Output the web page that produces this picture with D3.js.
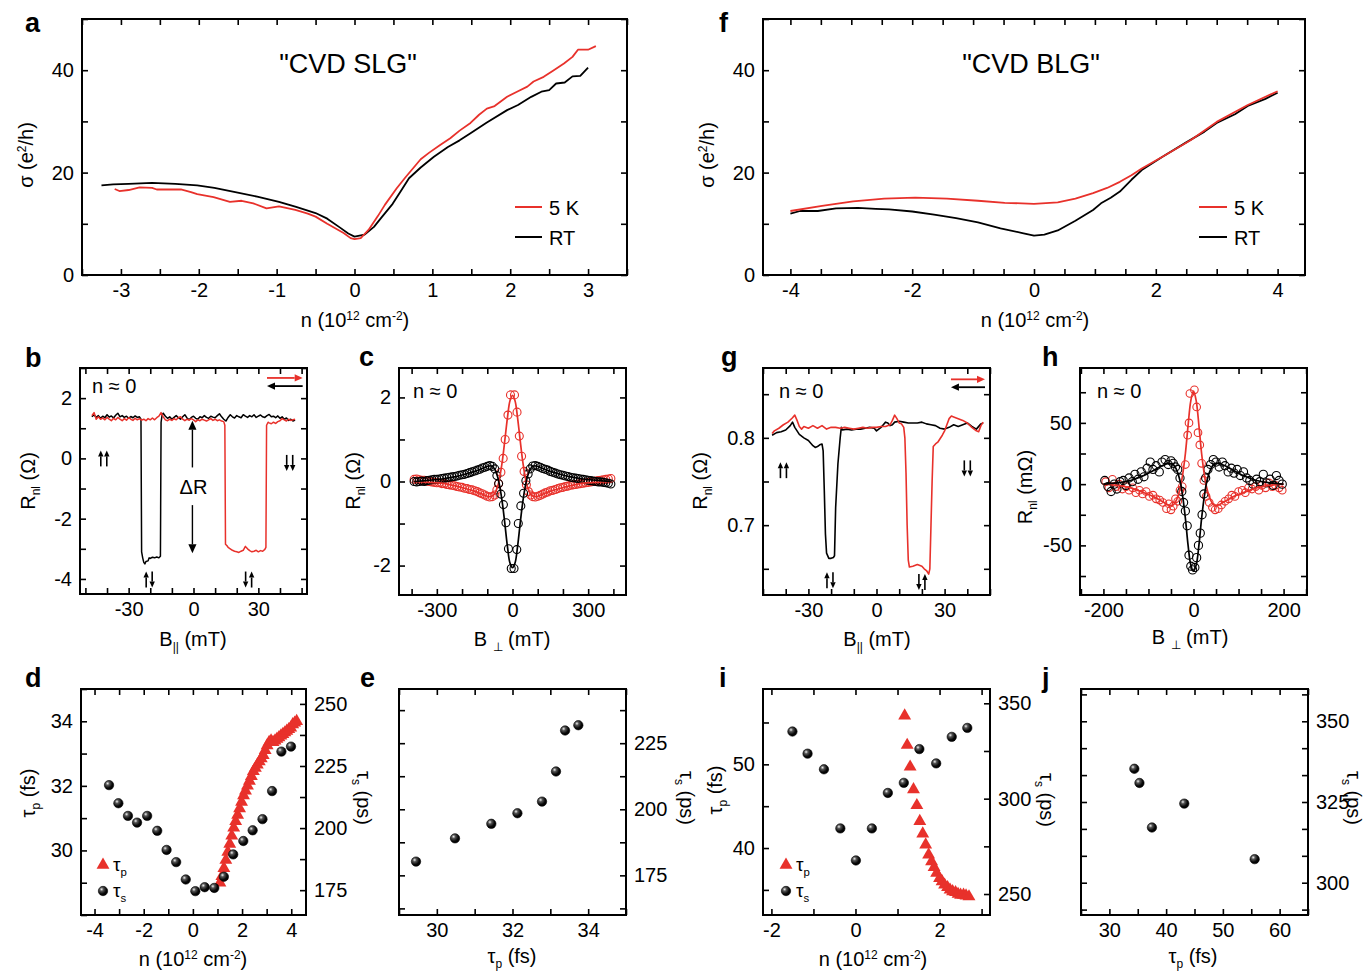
<!doctype html>
<html lang="en">
<head>
<meta charset="utf-8">
<title>Spin transport in CVD graphene</title>
<script src="https://d3js.org/d3.v7.min.js"></script>
<style>
  body { margin: 0; background: #fff; }
  text { white-space: pre; }
</style>
</head>
<body>
<script>
const FONT = "'Liberation Sans', Arial, Helvetica, sans-serif";
const RED = "#e8312b";

// ---------- data ----------
// a: conductivity of CVD SLG, n (1e12 cm-2) vs sigma (e2/h)
const aRT = [[-3.25,17.5],[-3.1,17.7],[-2.9,17.8],[-2.6,18.0],[-2.3,17.8],[-2.02,17.5],[-1.8,17.0],[-1.5,16.1],[-1.25,15.3],[-0.97,14.3],[-0.75,13.3],[-0.5,12.1],[-0.35,11.0],[-0.19,9.3],[-0.08,8.1],[0,7.5],[0.13,7.9],[0.25,9.4],[0.34,11.1],[0.49,13.9],[0.6,16.5],[0.7,18.9],[0.85,21.0],[1.02,23.1],[1.2,25.0],[1.35,26.3],[1.49,27.7],[1.7,29.8],[1.96,32.2],[2.1,33.2],[2.27,34.8],[2.4,35.8],[2.5,36.1],[2.59,37.4],[2.7,37.6],[2.8,38.8],[2.9,38.9],[3.0,40.5]];
const a5K = [[-3.08,16.8],[-3.02,16.4],[-2.9,16.6],[-2.76,17.1],[-2.6,17.0],[-2.54,16.7],[-2.23,16.7],[-2.1,16.2],[-2.02,15.8],[-1.81,15.2],[-1.6,14.3],[-1.45,14.5],[-1.3,14.0],[-1.13,13.0],[-0.97,13.4],[-0.76,12.7],[-0.6,12.0],[-0.5,11.4],[-0.35,10.0],[-0.14,8.2],[-0.05,7.2],[0,7.0],[0.08,7.2],[0.18,8.8],[0.3,11.5],[0.39,13.7],[0.54,16.9],[0.65,19.0],[0.75,20.8],[0.85,22.6],[0.96,23.9],[1.1,25.4],[1.23,26.7],[1.35,28.2],[1.49,29.7],[1.6,31.3],[1.7,32.5],[1.8,33.0],[1.96,34.8],[2.1,35.9],[2.22,36.8],[2.3,37.8],[2.43,38.7],[2.55,39.9],[2.69,41.3],[2.8,42.6],[2.87,44.0],[3.0,44.0],[3.1,44.7]];

// f: conductivity of CVD BLG
const f5K = [[-4,12.5],[-3.48,13.5],[-2.97,14.4],[-2.46,14.9],[-1.95,15.1],[-1.43,14.9],[-0.92,14.5],[-0.48,14.1],[0,13.9],[0.39,14.2],[0.68,14.9],[0.97,16.0],[1.2,17.0],[1.41,18.2],[1.6,19.5],[1.77,20.8],[2.11,23.1],[2.57,26.3],[3.0,29.9],[3.51,33.2],[4.0,35.9]];
const fRT = [[-4,12.0],[-3.84,12.5],[-3.55,12.5],[-3.25,13.0],[-2.89,13.1],[-2.6,12.9],[-2.38,12.8],[-2.0,12.4],[-1.64,11.8],[-1.28,11.1],[-0.92,10.3],[-0.55,9.1],[-0.19,8.2],[0,7.7],[0.17,7.9],[0.39,8.7],[0.68,10.6],[0.97,12.7],[1.1,14.0],[1.26,15.1],[1.41,16.3],[1.6,18.6],[1.77,20.5],[2.11,23.1],[2.5,25.9],[2.8,28.0],[3.0,29.7],[3.3,31.4],[3.51,33.0],[3.8,34.4],[4.0,35.6]];

// b: spin valve SLG, B (mT) vs Rnl (Ohm)
const bDown = [[-47,1.38],[-46,1.45],[-45,1.36],[-44,1.42],[-43,1.33],[-42,1.40],[-41,1.35],[-40,1.45],[-39,1.37],[-38,1.41],[-37,1.34],[-36,1.43],[-35,1.50],[-34,1.38],[-33,1.42],[-32,1.36],[-31,1.40],[-30,1.33],[-29,1.39],[-28,1.35],[-27,1.41],[-26,1.36],[-25,1.38],[-24.3,1.30],[-24,-3.1],[-23.5,-3.3],[-23,-3.45],[-22.5,-3.5],[-22,-3.42],[-21,-3.4],[-20.5,-3.3],[-20,-3.32],[-19,-3.28],[-18,-3.3],[-17,-3.27],[-16,-3.3],[-15.3,-3.25],[-15,1.2],[-14.5,1.45],[-14,1.5],[-13,1.40],[-12,1.33],[-11,1.38],[-10,1.30],[-9,1.36],[-8,1.42],[-7,1.35],[-6,1.30],[-5,1.38],[-4,1.45],[-3,1.34],[-2,1.28],[-1,1.36],[0,1.40],[1,1.33],[2,1.30],[3,1.38],[4,1.35],[5,1.42],[6,1.36],[7,1.33],[8,1.40],[9,1.37],[10,1.35],[11,1.42],[12,1.48],[13,1.38],[14,1.30],[15,1.24],[16,1.36],[17,1.45],[18,1.38],[19,1.34],[20,1.42],[21,1.38],[22,1.35],[23,1.45],[24,1.40],[25,1.36],[26,1.42],[27,1.38],[28,1.45],[29,1.36],[30,1.40],[31,1.44],[32,1.38],[33,1.36],[34,1.42],[35,1.46],[36,1.38],[37,1.40],[38,1.35],[39,1.41],[40,1.33],[41,1.38],[42,1.30],[43,1.34],[44,1.26],[45,1.30],[46,1.24],[47,1.27]];
const bUp = [[-47,1.42],[-46,1.52],[-45,1.30],[-44,1.38],[-43,1.30],[-42,1.34],[-41,1.28],[-40,1.36],[-39,1.30],[-38,1.25],[-37,1.33],[-36,1.28],[-35,1.36],[-34,1.30],[-33,1.25],[-32,1.32],[-31,1.27],[-30,1.35],[-29,1.30],[-28,1.26],[-27,1.33],[-26,1.28],[-25,1.32],[-24,1.27],[-23,1.30],[-22,1.25],[-21,1.32],[-20,1.28],[-19,1.34],[-18,1.28],[-17,1.35],[-16,1.40],[-15,1.52],[-14,1.38],[-13,1.28],[-12,1.25],[-11,1.30],[-10,1.26],[-9,1.32],[-8,1.28],[-7,1.35],[-6,1.38],[-5,1.30],[-4,1.25],[-3,1.30],[-2,1.27],[-1,1.32],[0,1.28],[1,1.22],[2,1.28],[3,1.25],[4,1.30],[5,1.27],[6,1.24],[7,1.28],[8,1.32],[9,1.26],[10,1.30],[11,1.25],[12,1.28],[13,1.24],[14,1.22],[14.5,1.1],[14.8,-2.85],[15.5,-2.9],[16,-2.95],[17,-3.0],[18,-3.05],[19,-3.08],[20,-3.1],[21,-3.12],[22,-3.08],[23,-3.05],[24,-2.92],[25,-3.0],[26,-3.06],[27,-3.1],[28,-3.08],[29,-3.05],[30,-3.1],[31,-3.06],[32,-3.08],[33,-3.02],[33.5,-2.95],[33.8,1.1],[34.5,1.2],[35,1.18],[36,1.15],[37,1.2],[38,1.16],[39,1.22],[40,1.25],[41,1.32],[42,1.28],[43,1.24],[44,1.30],[45,1.26],[46,1.28],[47,1.3]];

// c: Hanle SLG, B (mT) vs Rnl (Ohm)
const cRedPts = [[-390,0.05],[-380,0.06],[-370,0.04],[-360,0.03],[-350,0.03],[-340,0.01],[-330,0.0],[-320,-0.01],[-310,-0.02],[-300,-0.03],[-290,-0.03],[-280,-0.05],[-270,-0.05],[-260,-0.07],[-250,-0.08],[-240,-0.09],[-230,-0.1],[-220,-0.12],[-210,-0.13],[-200,-0.14],[-190,-0.16],[-180,-0.17],[-170,-0.19],[-160,-0.2],[-150,-0.22],[-140,-0.24],[-130,-0.27],[-120,-0.29],[-110,-0.32],[-100,-0.35],[-90,-0.37],[-80,-0.36],[-70,-0.32],[-62,-0.2],[-55,-0.05],[-46,0.22],[-37,0.55],[-29,1.0],[-18,1.58],[-8,2.06],[8,2.06],[18,1.65],[27,1.08],[36,0.6],[46,0.24],[55,-0.08],[63,-0.24],[72,-0.32],[80,-0.36],[90,-0.37],[100,-0.35],[110,-0.33],[120,-0.3],[130,-0.27],[140,-0.25],[150,-0.22],[160,-0.21],[170,-0.19],[180,-0.17],[190,-0.15],[200,-0.14],[210,-0.12],[220,-0.11],[230,-0.09],[240,-0.08],[250,-0.07],[260,-0.06],[270,-0.05],[280,-0.04],[290,-0.03],[300,-0.02],[310,-0.01],[320,0.0],[330,0.01],[340,0.02],[350,0.03],[360,0.04],[370,0.05],[380,0.06],[390,0.07]];
const cBlkPts = [[-390,0.0],[-380,-0.01],[-370,0.0],[-360,0.01],[-350,0.0],[-340,0.02],[-330,0.03],[-320,0.04],[-310,0.05],[-300,0.05],[-290,0.06],[-280,0.07],[-270,0.08],[-260,0.09],[-250,0.1],[-240,0.11],[-230,0.12],[-220,0.13],[-210,0.15],[-200,0.16],[-190,0.17],[-180,0.19],[-170,0.21],[-160,0.23],[-150,0.25],[-140,0.27],[-130,0.29],[-120,0.32],[-110,0.34],[-100,0.36],[-90,0.38],[-80,0.36],[-70,0.3],[-62,0.14],[-55,-0.05],[-46,-0.3],[-36,-0.55],[-26,-0.98],[-16,-1.6],[-5,-2.07],[6,-2.07],[17,-1.62],[23,-1.0],[33,-0.58],[44,-0.28],[53,0.02],[62,0.18],[70,0.3],[80,0.37],[90,0.38],[100,0.36],[110,0.34],[120,0.31],[130,0.29],[140,0.27],[150,0.24],[160,0.22],[170,0.2],[180,0.18],[190,0.16],[200,0.15],[210,0.13],[220,0.12],[230,0.1],[240,0.09],[250,0.08],[260,0.07],[270,0.06],[280,0.05],[290,0.04],[300,0.03],[310,0.02],[320,0.01],[330,0.0],[340,-0.01],[350,-0.01],[360,-0.02],[370,-0.03],[380,-0.04],[390,-0.06]];
const cRedFit = [[-390,0.0],[-330,-0.02],[-280,-0.04],[-230,-0.1],[-190,-0.16],[-150,-0.23],[-120,-0.3],[-100,-0.35],[-85,-0.36],[-72,-0.3],[-60,-0.14],[-50,0.12],[-40,0.5],[-30,1.0],[-20,1.52],[-10,1.92],[0,2.05],[10,1.92],[20,1.52],[30,1.0],[40,0.5],[50,0.12],[60,-0.14],[72,-0.3],[85,-0.36],[100,-0.35],[120,-0.3],[150,-0.23],[190,-0.16],[230,-0.1],[280,-0.04],[330,-0.02],[390,0.0]];
const cBlkFit = [[-390,0.0],[-330,0.03],[-280,0.06],[-230,0.11],[-190,0.17],[-150,0.24],[-120,0.31],[-100,0.36],[-85,0.37],[-72,0.31],[-60,0.13],[-50,-0.14],[-40,-0.52],[-30,-1.02],[-20,-1.55],[-10,-1.94],[0,-2.05],[10,-1.94],[20,-1.55],[30,-1.02],[40,-0.52],[50,-0.14],[60,0.13],[72,0.31],[85,0.37],[100,0.36],[120,0.31],[150,0.24],[190,0.17],[230,0.11],[280,0.06],[330,0.03],[390,0.0]];

// g: spin valve BLG
const gDown = [[-46,0.803],[-44,0.806],[-42,0.807],[-40,0.809],[-38,0.814],[-37,0.818],[-36,0.812],[-34,0.804],[-32,0.800],[-30,0.797],[-28,0.791],[-27,0.789],[-26,0.790],[-25,0.792],[-24,0.793],[-23.5,0.785],[-23,0.74],[-22.5,0.69],[-22,0.668],[-21,0.662],[-20,0.662],[-19,0.663],[-18.5,0.665],[-18,0.72],[-17,0.77],[-16,0.80],[-15.5,0.812],[-15,0.809],[-13,0.810],[-11,0.809],[-9,0.810],[-7,0.810],[-5,0.811],[-3,0.812],[-1,0.811],[0,0.808],[1,0.810],[2,0.812],[3,0.815],[4,0.818],[5,0.817],[6,0.814],[7,0.815],[8,0.818],[10,0.819],[12,0.818],[14,0.817],[16,0.817],[18,0.817],[20,0.818],[22,0.816],[24,0.815],[26,0.814],[28,0.811],[30,0.810],[32,0.812],[34,0.815],[36,0.813],[38,0.815],[40,0.817],[42,0.813],[44,0.810],[46,0.816],[47,0.817]];
const gUp = [[-46,0.805],[-45,0.808],[-43,0.811],[-41,0.815],[-39,0.818],[-37,0.823],[-36,0.826],[-35,0.820],[-34,0.813],[-33,0.810],[-32,0.813],[-30,0.811],[-28,0.814],[-26,0.811],[-24,0.814],[-22,0.810],[-20,0.812],[-18,0.812],[-16,0.811],[-14,0.812],[-12,0.811],[-10,0.810],[-8,0.811],[-6,0.812],[-4,0.811],[-2,0.812],[0,0.812],[2,0.813],[4,0.813],[6,0.815],[7,0.820],[8,0.826],[9,0.822],[10,0.817],[11,0.816],[12,0.812],[12.5,0.80],[13,0.76],[13.5,0.70],[14,0.66],[14.5,0.652],[16,0.653],[18,0.655],[20,0.653],[21,0.650],[22,0.648],[23,0.644],[23.5,0.65],[24,0.70],[24.5,0.75],[25,0.79],[26,0.793],[27,0.795],[28,0.799],[29,0.803],[30,0.808],[31,0.815],[32,0.822],[33,0.825],[34,0.824],[36,0.822],[38,0.820],[40,0.817],[42,0.812],[44,0.808],[45,0.807],[46,0.814],[47,0.818]];

// h: Hanle BLG, B (mT) vs Rnl (mOhm)
const hRedPts = [[-195,2],[-188,-3],[-180,4],[-172,-2],[-165,0],[-158,-4],[-150,-2],[-143,-5],[-135,-3],[-128,-7],[-120,-5],[-113,-8],[-105,-6],[-98,-10],[-90,-9],[-83,-12],[-75,-13],[-68,-15],[-60,-20],[-55,-16],[-50,-21],[-45,-18],[-40,-12],[-35,-14],[-30,-5],[-25,-2],[-18,16],[-13,40],[-10,50],[-8,74],[2,77],[7,63],[10,42],[14,32],[18,17],[23,3],[28,-10],[35,-15],[42,-19],[48,-21],[55,-20],[62,-17],[70,-14],[78,-12],[85,-9],[92,-10],[100,-6],[108,-5],[115,-7],[122,-3],[130,-4],[138,-2],[145,-5],[152,-1],[160,-3],[168,1],[175,-2],[182,-1],[190,-3],[197,-5]];
const hBlkPts = [[-197,3],[-190,-2],[-183,-6],[-176,0],[-170,-4],[-163,2],[-156,3],[-150,-1],[-143,5],[-136,2],[-130,8],[-123,4],[-116,10],[-110,6],[-103,13],[-96,18],[-90,12],[-83,15],[-76,10],[-70,18],[-63,20],[-56,16],[-50,19],[-45,17],[-40,14],[-35,12],[-30,5],[-26,-6],[-22,-15],[-18,-22],[-14,-34],[-10,-58],[-6,-67],[-2,-70],[3,-68],[7,-60],[11,-50],[15,-40],[19,-25],[23,-8],[27,5],[32,12],[38,16],[44,20],[50,18],[57,14],[64,18],[70,15],[77,10],[84,13],[90,9],[97,12],[104,7],[111,10],[118,5],[125,3],[132,0],[140,4],[147,2],[155,8],[162,1],[170,4],[177,-1],[184,7],[190,3],[197,0]];
const hRedFit = [[-200,0],[-170,-1],[-140,-3],[-110,-7],[-90,-10],[-70,-14],[-55,-17],[-45,-17],[-38,-13],[-30,-4],[-24,8],[-18,25],[-12,48],[-6,68],[0,76],[6,68],[12,48],[18,25],[24,8],[30,-4],[38,-13],[45,-17],[55,-17],[70,-14],[90,-10],[110,-7],[140,-3],[170,-1],[200,0]];
const hBlkFit = [[-200,0],[-170,1],[-140,3],[-110,7],[-90,11],[-70,15],[-55,17],[-45,16],[-38,12],[-30,3],[-24,-10],[-18,-28],[-12,-50],[-6,-66],[0,-71],[6,-66],[12,-50],[18,-28],[24,-10],[30,3],[38,12],[45,16],[55,17],[70,15],[90,11],[110,7],[140,3],[170,1],[200,0]];

// d: SLG tau_p (fs) and tau_s (ps) vs n
const dTauP = [[1.10,29.0],[1.18,29.2],[1.26,29.45],[1.34,29.7],[1.42,29.95],[1.50,30.2],[1.58,30.45],[1.66,30.7],[1.74,30.9],[1.82,31.1],[1.90,31.3],[1.98,31.5],[2.06,31.7],[2.14,31.85],[2.22,32.0],[2.30,32.15],[2.38,32.3],[2.46,32.45],[2.54,32.55],[2.62,32.65],[2.70,32.75],[2.78,32.85],[2.86,32.95],[2.94,33.1],[3.02,33.25],[3.10,33.35],[3.18,33.4],[3.26,33.35],[3.34,33.4],[3.42,33.45],[3.50,33.5],[3.58,33.55],[3.66,33.6],[3.74,33.65],[3.82,33.7],[3.90,33.75],[3.98,33.8],[4.06,33.9],[4.14,33.95],[4.22,34.0]];
const dTauS = [[-3.41,217.3],[-3.03,210.0],[-2.64,204.9],[-2.27,202.2],[-1.86,204.9],[-1.45,198.9],[-1.07,191.2],[-0.68,186.3],[-0.29,179.3],[0.1,174.6],[0.48,176.2],[0.87,175.9],[1.26,180.4],[1.64,189.4],[2.05,194.8],[2.43,199.1],[2.83,203.6],[3.22,214.9],[3.6,230.8],[3.99,232.8]];
// e: SLG tau_s vs tau_p
const eTau = [[29.45,180.2],[30.48,189.0],[31.44,194.5],[32.13,198.5],[32.78,202.9],[33.15,214.3],[33.39,229.8],[33.74,231.8]];
// i: BLG tau_p and tau_s vs n
const iTauP = [[1.17,55.8],[1.23,52.3],[1.30,49.7],[1.38,47.0],[1.46,45.1],[1.53,43.2],[1.60,41.7],[1.67,40.4],[1.74,39.2],[1.81,38.4],[1.87,37.7],[1.93,37.0],[2.0,36.4],[2.06,36.0],[2.12,35.6],[2.19,35.3],[2.25,35.0],[2.31,34.8],[2.38,34.7],[2.44,34.5],[2.5,34.4],[2.57,34.4],[2.63,34.3],[2.7,34.2]];
const iTauS = [[-1.5,335.2],[-1.14,323.6],[-0.75,315.4],[-0.36,284.4],[0.01,267.6],[0.39,284.4],[0.77,303.0],[1.15,308.3],[1.52,326.0],[1.92,318.5],[2.29,332.4],[2.66,337.1]];
// j: BLG tau_s vs tau_p
const jTau = [[34.4,335.3],[35.3,330.9],[43.2,324.5],[37.5,317.1],[55.6,307.3]];

// ticks (all / labelled)
const aXT = d3.range(-3.5, 3.51, 0.5), aXL = [-3,-2,-1,0,1,2,3];
const aYT = [0,10,20,30,40,50], aYL = [0,20,40];
const fXT = d3.range(-4, 4.01, 0.5), fXL = [-4,-2,0,2,4];
const bXT = [-50,-40,-30,-20,-10,0,10,20,30,40,50], bXL = [-30,0,30];
const bYT = [-4,-3,-2,-1,0,1,2,3], bYL = [-4,-2,0,2];
const cXT = [-400,-300,-200,-100,0,100,200,300,400], cXL = [-300,0,300];
const cYT = [-2,-1,0,1,2], cYL = [-2,0,2];
const gXT = [-50,-40,-30,-20,-10,0,10,20,30,40,50], gXL = [-30,0,30];
const gYT = [0.65,0.7,0.75,0.8,0.85], gYL = [0.7,0.8];
const hXT = [-250,-200,-150,-100,-50,0,50,100,150,200,250], hXL = [-200,0,200];
const hYT = [-75,-50,-25,0,25,50,75], hYL = [-50,0,50];
const dXT = [-4,-3,-2,-1,0,1,2,3,4], dXL = [-4,-2,0,2,4];
const dYT = [28,29,30,31,32,33,34,35], dYL = [30,32,34];
const dY2T = [175,187.5,200,212.5,225,237.5,250], dY2L = [175,200,225,250];
const eXT = [29,30,31,32,33,34,35], eXL = [30,32,34];
const eYT = [162.5,175,187.5,200,212.5,225,237.5], eYL = [175,200,225];
const iXT = [-2,-1,0,1,2,3], iXL = [-2,0,2];
const iYT = [35,40,45,50,55], iYL = [40,50];
const iY2T = [250,275,300,325,350], iY2L = [250,300,350];
const jXT = [25,30,35,40,45,50,55,60,65], jXL = [30,40,50,60];
const jYT = [291.67,300,308.33,316.67,325,333.33,341.67,350,358.33], jYL = [300,325,350];

// ---------- drawing ----------
const svg = d3.select("body").append("svg")
  .attr("width", 1369).attr("height", 971)
  .attr("font-family", FONT);

const defs = svg.append("defs");
const grad = defs.append("radialGradient").attr("id", "ball")
  .attr("cx", "35%").attr("cy", "32%").attr("r", "70%");
grad.append("stop").attr("offset", "0%").attr("stop-color", "#f2f2f2");
grad.append("stop").attr("offset", "28%").attr("stop-color", "#555");
grad.append("stop").attr("offset", "70%").attr("stop-color", "#080808");
grad.append("stop").attr("offset", "100%").attr("stop-color", "#000");

function fmt(labels) {
  return d => labels.some(v => Math.abs(v - d) < 1e-6) ? String(d) : "";
}

function panel(o) {
  const [l, t, r, b] = o.box;
  const x = d3.scaleLinear().domain(o.x).range([l, r]);
  const y = d3.scaleLinear().domain(o.y).range([b, t]);
  const y2 = o.y2 ? d3.scaleLinear().domain(o.y2).range([b, t]) : null;
  const g = svg.append("g");

  function ax(gen, tx, ty, scale, vals, labels) {
    const a = gen(scale).tickValues(vals).tickSize(-6).tickPadding(8)
      .tickFormat(labels ? fmt(labels) : "");
    g.append("g").attr("transform", `translate(${tx},${ty})`).call(a)
      .call(s => s.select(".domain").remove())
      .call(s => s.selectAll("line").attr("stroke", "#000").attr("stroke-width", 1.6))
      .call(s => s.selectAll("text").attr("font-size", 20).attr("font-family", FONT).attr("fill", "#000"));
  }
  ax(d3.axisBottom, 0, b, x, o.xt, o.xl);
  ax(d3.axisTop, 0, t, x, o.xt, null);
  ax(d3.axisLeft, l, 0, y, o.yt, o.noLeftLabels ? null : o.yl);
  if (y2) {
    ax(d3.axisRight, r, 0, y2, o.y2t, o.y2l);
  } else {
    ax(d3.axisRight, r, 0, y, o.yt, o.noLeftLabels ? o.yl : null);
  }
  g.append("rect").attr("x", l).attr("y", t).attr("width", r - l).attr("height", b - t)
    .attr("fill", "none").attr("stroke", "#000").attr("stroke-width", 2);
  return { x, y, y2, g };
}

function line(p, data, color, w = 1.7, ys, curve) {
  const yy = ys || p.y;
  const gen = d3.line().x(d => p.x(d[0])).y(d => yy(d[1]));
  if (curve) gen.curve(curve);
  svg.append("path").datum(data).attr("d", gen)
    .attr("fill", "none").attr("stroke", color).attr("stroke-width", w)
    .attr("stroke-linejoin", "round");
}

function rings(p, data, color, rr = 3.8) {
  svg.append("g").selectAll("circle").data(data).join("circle")
    .attr("cx", d => p.x(d[0])).attr("cy", d => p.y(d[1])).attr("r", rr)
    .attr("fill", "none").attr("stroke", color).attr("stroke-width", 1.1);
}

function balls(p, data, ys) {
  const yy = ys || p.y;
  svg.append("g").selectAll("circle").data(data).join("circle")
    .attr("cx", d => p.x(d[0])).attr("cy", d => yy(d[1])).attr("r", 4.7)
    .attr("fill", "url(#ball)").attr("stroke", "#000").attr("stroke-width", 0.6);
}

const tri = d3.symbol().type(d3.symbolTriangle).size(72);
function triangles(p, data) {
  svg.append("g").selectAll("path").data(data).join("path")
    .attr("transform", d => `translate(${p.x(d[0])},${p.y(d[1])})`)
    .attr("d", tri).attr("fill", RED);
}

function rich(x, y, parts, opt = {}) {
  const t = svg.append("text").attr("x", x).attr("y", y)
    .attr("font-size", opt.size || 20)
    .attr("text-anchor", opt.anchor || "middle").attr("fill", "#000");
  if (opt.rotate) t.attr("transform", `rotate(${opt.rotate},${x},${y})`);
  if (opt.weight) t.attr("font-weight", opt.weight);
  parts.forEach(p => {
    const [s, k] = Array.isArray(p) ? p : [p, ""];
    const ts = t.append("tspan").text(s);
    if (k === "sup") ts.attr("font-size", "0.6em").attr("baseline-shift", "7px");
    if (k === "sub") ts.attr("font-size", "0.6em").attr("baseline-shift", "-5px");
  });
  return t;
}

function letter(x, y, s) { rich(x, y, [s], { size: 27, weight: "bold", anchor: "start" }); }

// arrows
function arrow(x1, y1, x2, y2, color, head = 6, w = 1.6) {
  const ang = Math.atan2(y2 - y1, x2 - x1);
  const bx = x2 - head * Math.cos(ang), by = y2 - head * Math.sin(ang);
  svg.append("line").attr("x1", x1).attr("y1", y1).attr("x2", bx).attr("y2", by)
    .attr("stroke", color).attr("stroke-width", w);
  const hw = head * 0.45;
  const px = -Math.sin(ang) * hw, py = Math.cos(ang) * hw;
  svg.append("path")
    .attr("d", `M${x2},${y2}L${bx + px},${by + py}L${bx - px},${by - py}Z`)
    .attr("fill", color);
}
function spin(cx, cy, first, second) {
  // two small vertical arrows, "u" up or "d" down
  [[cx - 3, first], [cx + 3, second]].forEach(([xx, dir]) => {
    if (dir === "u") arrow(xx, cy + 8, xx, cy - 8, "#000", 6, 1.6);
    else arrow(xx, cy - 8, xx, cy + 8, "#000", 6, 1.6);
  });
}
function sweepArrows(x1, x2, yR, yB) {
  arrow(x1, yR, x2, yR, RED, 8, 1.8);
  arrow(x2, yB, x1, yB, "#000", 8, 1.8);
}

const nLabel = ["n (10", ["12", "sup"], " cm", ["-2", "sup"], ")"];
const sigLabel = ["σ (e", ["2", "sup"], "/h)"];
const rnl = ["R", ["nl", "sub"], " (Ω)"];
const tp = ["τ", ["p", "sub"], " (fs)"];
const ts = ["τ", ["s", "sub"], " (ps)"];

// ---- a ----
const pa = panel({ box: [82, 19, 627, 275], x: [-3.5, 3.5], y: [0, 50], xt: aXT, xl: aXL, yt: aYT, yl: aYL });
line(pa, aRT, "#000", 1.8);
line(pa, a5K, RED, 1.8);
rich(348, 73, ['"CVD SLG"'], { size: 27 });
svg.append("line").attr("x1", 515).attr("x2", 542).attr("y1", 207).attr("y2", 207).attr("stroke", RED).attr("stroke-width", 2);
svg.append("line").attr("x1", 515).attr("x2", 542).attr("y1", 237).attr("y2", 237).attr("stroke", "#000").attr("stroke-width", 2);
rich(549, 215, ["5 K"], { anchor: "start" });
rich(549, 245, ["RT"], { anchor: "start" });
rich(355, 327, nLabel);
rich(33, 155, sigLabel, { rotate: -90 });
letter(25, 32, "a");

// ---- f ----
const pf = panel({ box: [763, 19, 1305, 275], x: [-4.45, 4.45], y: [0, 50], xt: fXT, xl: fXL, yt: aYT, yl: aYL });
line(pf, fRT, "#000", 1.8);
line(pf, f5K, RED, 1.8);
rich(1031, 73, ['"CVD BLG"'], { size: 27 });
svg.append("line").attr("x1", 1199).attr("x2", 1227).attr("y1", 207).attr("y2", 207).attr("stroke", RED).attr("stroke-width", 2);
svg.append("line").attr("x1", 1199).attr("x2", 1227).attr("y1", 237).attr("y2", 237).attr("stroke", "#000").attr("stroke-width", 2);
rich(1234, 215, ["5 K"], { anchor: "start" });
rich(1234, 245, ["RT"], { anchor: "start" });
rich(1035, 327, nLabel);
rich(714, 155, sigLabel, { rotate: -90 });
letter(719, 32, "f");

// ---- b ----
const pb = panel({ box: [80, 368, 307, 594], x: [-52.5, 52.5], y: [-4.5, 3], xt: bXT, xl: bXL, yt: bYT, yl: bYL });
line(pb, bDown, "#000", 1.5);
line(pb, bUp, RED, 1.5);
rich(92, 393, ["n ≈ 0"], { anchor: "start" });
sweepArrows(pb.x(34), pb.x(50.5), pb.y(2.67), pb.y(2.4));
// delta R
arrow(pb.x(-0.5), pb.y(-0.3), pb.x(-0.5), pb.y(1.25), "#000", 9, 1.4);
arrow(pb.x(-0.5), pb.y(-1.55), pb.x(-0.5), pb.y(-3.15), "#000", 9, 1.4);
rich(pb.x(0), pb.y(-0.95) + 7, ["ΔR"]);
spin(pb.x(-41.5), pb.y(0), "u", "u");
spin(pb.x(44.5), pb.y(-0.15), "d", "d");
spin(pb.x(-20.5), pb.y(-4.02), "u", "d");
spin(pb.x(25.5), pb.y(-4.02), "d", "u");
rich(193, 646, ["B", ["||", "sub"], " (mT)"]);
rich(35, 481, rnl, { rotate: -90 });
letter(25, 367, "b");

// ---- c ----
const pc = panel({ box: [399, 368, 626, 595], x: [-450, 450], y: [-2.7, 2.7], xt: cXT, xl: cXL, yt: cYT, yl: cYL });
rings(pc, cRedPts, RED, 4.0);
rings(pc, cBlkPts, "#000", 4.0);
line(pc, cRedFit, RED, 1.7, null, d3.curveCatmullRom);
line(pc, cBlkFit, "#000", 1.7, null, d3.curveCatmullRom);
rich(413, 398, ["n ≈ 0"], { anchor: "start" });
rich(512, 646, ["B ", ["⊥", "sub"], " (mT)"]);
rich(360, 481, rnl, { rotate: -90 });
letter(359, 366, "c");

// ---- g ----
const pg = panel({ box: [763, 368, 990, 595], x: [-50, 50], y: [0.62, 0.88], xt: gXT, xl: gXL, yt: gYT, yl: gYL });
line(pg, gDown, "#000", 1.6);
line(pg, gUp, RED, 1.6);
rich(779, 398, ["n ≈ 0"], { anchor: "start" });
sweepArrows(pg.x(32.8), pg.x(47.8), pg.y(0.867), pg.y(0.858));
spin(pg.x(-41), pg.y(0.763), "u", "u");
spin(pg.x(40), pg.y(0.765), "d", "d");
spin(pg.x(-20.5), pg.y(0.637), "u", "d");
spin(pg.x(20), pg.y(0.635), "d", "u");
rich(877, 646, ["B", ["||", "sub"], " (mT)"]);
rich(707, 481, rnl, { rotate: -90 });
letter(721, 366, "g");

// ---- h ----
const ph = panel({ box: [1080, 368, 1307, 595], x: [-252, 252], y: [-90.5, 94.8], xt: hXT, xl: hXL, yt: hYT, yl: hYL });
rings(ph, hRedPts, RED, 3.8);
rings(ph, hBlkPts, "#000", 4.1);
line(ph, hRedFit, RED, 1.7, null, d3.curveCatmullRom);
line(ph, hBlkFit, "#000", 1.7, null, d3.curveCatmullRom);
rich(1097, 398, ["n ≈ 0"], { anchor: "start" });
rich(1190, 644, ["B ", ["⊥", "sub"], " (mT)"]);
rich(1032, 487, ["R", ["nl", "sub"], " (mΩ)"], { rotate: -90 });
letter(1042, 366, "h");

// ---- d ----
const pd = panel({ box: [81, 689, 306, 915], x: [-4.55, 4.6], y: [28, 35], y2: [165, 256],
  xt: dXT, xl: dXL, yt: dYT, yl: dYL, y2t: dY2T, y2l: dY2L });
triangles(pd, dTauP);
balls(pd, dTauS, pd.y2);
svg.append("path").attr("transform", "translate(103,865)").attr("d", tri).attr("fill", RED);
svg.append("circle").attr("cx", 103).attr("cy", 891).attr("r", 4.7).attr("fill", "url(#ball)").attr("stroke", "#000").attr("stroke-width", 0.6);
rich(113, 871, ["τ", ["p", "sub"]], { anchor: "start", size: 19 });
rich(113, 897, ["τ", ["s", "sub"]], { anchor: "start", size: 19 });
rich(193, 966, nLabel);
rich(35, 793, tp, { rotate: -90 });
rich(357, 798, ts, { rotate: 90 });
letter(25, 687, "d");

// ---- e ----
const pe = panel({ box: [399, 689, 626, 915], x: [29, 35], y: [160, 245.5], xt: eXT, xl: eXL, yt: eYT, yl: eYL, noLeftLabels: true });
balls(pe, eTau);
rich(512, 963, tp);
rich(680, 798, ts, { rotate: 90 });
letter(360, 687, "e");

// ---- i ----
const pi = panel({ box: [763, 689, 990, 915], x: [-2.2, 3.2], y: [32, 59], y2: [239, 357.5],
  xt: iXT, xl: iXL, yt: iYT, yl: iYL, y2t: iY2T, y2l: iY2L });
triangles(pi, iTauP);
balls(pi, iTauS, pi.y2);
svg.append("path").attr("transform", "translate(786,865)").attr("d", tri).attr("fill", RED);
svg.append("circle").attr("cx", 786).attr("cy", 891).attr("r", 4.7).attr("fill", "url(#ball)").attr("stroke", "#000").attr("stroke-width", 0.6);
rich(796, 871, ["τ", ["p", "sub"]], { anchor: "start", size: 19 });
rich(796, 897, ["τ", ["s", "sub"]], { anchor: "start", size: 19 });
rich(873, 966, nLabel);
rich(722, 790, tp, { rotate: -90 });
rich(1040, 800, ts, { rotate: 90 });
letter(719, 687, "i");

// ---- j ----
const pj = panel({ box: [1081, 689, 1308, 915], x: [25, 65], y: [290, 360], xt: jXT, xl: jXL, yt: jYT, yl: jYL, noLeftLabels: true });
balls(pj, jTau);
rich(1193, 963, tp);
rich(1347, 798, ts, { rotate: 90 });
letter(1042, 687, "j");
</script>
</body>
</html>
